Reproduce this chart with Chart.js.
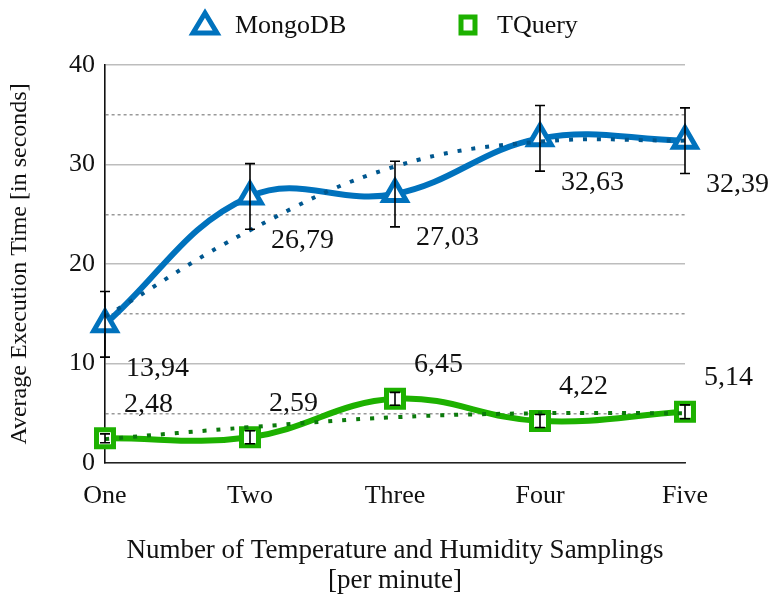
<!DOCTYPE html>
<html>
<head>
<meta charset="utf-8">
<script src="https://cdn.jsdelivr.net/npm/chart.js@4/dist/chart.umd.min.js"></script>
<style>
  html, body { margin: 0; padding: 0; background: #fff; }
  #wrap { width: 773px; height: 597px; }
</style>
</head>
<body>
<div id="wrap"><canvas id="execChart" width="773" height="597"></canvas></div>
<script>
// chart data
var samplings = ['One', 'Two', 'Three', 'Four', 'Five'];
var mongoTimes = [13.94, 26.79, 27.03, 32.63, 32.39];
var mongoErr = [3.3, 3.3, 3.3, 3.3, 3.3];
var mongoTrend = [14.7, 23.4, 29.8, 32.3, 32.4];
var tqueryTimes = [2.48, 2.59, 6.45, 4.22, 5.14];
var tqueryErr = [0.45, 0.65, 0.65, 0.65, 0.7];
var tqueryTrend = [2.4, 3.6, 4.6, 5.0, 5.0];
var yTicks = [0, 10, 20, 30, 40];

var BLUE = '#0072BD';
var BLUE_DARK = '#00578F';
var GREEN = '#1DB100';
var GREEN_DARK = '#0B7A0B';
var FONT = '"Liberation Serif", "DejaVu Serif", serif';

function fmt(v) {
    return v.toFixed(2).replace('.', ',');
}

// error bars + value labels + legend
var overlayPlugin = {
    id: 'overlay',
    afterDatasetsDraw: function (chart) {
        var ctx = chart.ctx;
        var yScale = chart.scales.y;
        var series = [
            { idx: 0, vals: mongoTimes, err: mongoErr, dx: 21, dy: 44 },
            { idx: 1, vals: tqueryTimes, err: tqueryErr, dx: 19, dy: -34 }
        ];
        ctx.save();
        series.forEach(function (s) {
            var meta = chart.getDatasetMeta(s.idx);
            meta.data.forEach(function (pt, i) {
                var top = yScale.getPixelForValue(s.vals[i] + s.err[i]);
                var bot = yScale.getPixelForValue(s.vals[i] - s.err[i]);
                ctx.strokeStyle = '#000';
                ctx.lineWidth = 1.6;
                ctx.beginPath();
                ctx.moveTo(pt.x, top); ctx.lineTo(pt.x, bot);
                ctx.moveTo(pt.x - 5, top); ctx.lineTo(pt.x + 5, top);
                ctx.moveTo(pt.x - 5, bot); ctx.lineTo(pt.x + 5, bot);
                ctx.stroke();

                ctx.fillStyle = '#111';
                ctx.font = '28px ' + FONT;
                ctx.textAlign = 'left';
                ctx.textBaseline = 'middle';
                ctx.fillText(fmt(s.vals[i]), pt.x + s.dx, pt.y + s.dy);
            });
        });
        ctx.restore();
    },
    afterDraw: function (chart) {
        var ctx = chart.ctx;
        ctx.save();
        // legend: triangle
        ctx.lineWidth = 5;
        ctx.strokeStyle = BLUE;
        ctx.fillStyle = '#fff';
        ctx.beginPath();
        ctx.moveTo(205, 13); ctx.lineTo(217, 33); ctx.lineTo(193, 33); ctx.closePath();
        ctx.fill(); ctx.stroke();
        // legend: square
        ctx.strokeStyle = GREEN;
        ctx.beginPath();
        ctx.rect(461, 17, 14, 16);
        ctx.fill(); ctx.stroke();

        ctx.fillStyle = '#111';
        ctx.font = '26px ' + FONT;
        ctx.textAlign = 'left';
        ctx.textBaseline = 'middle';
        ctx.fillText('MongoDB', 235, 26);
        ctx.fillText('TQuery', 497, 26);
        ctx.restore();
    }
};

document.addEventListener('DOMContentLoaded', function () {
    var ctx = document.getElementById('execChart').getContext('2d');

    new Chart(ctx, {
        type: 'line',
        data: {
            labels: samplings,
            datasets: [
                {
                    label: 'MongoDB',
                    data: mongoTimes,
                    borderColor: BLUE,
                    borderWidth: 6,
                    tension: 0.4,
                    pointStyle: 'triangle',
                    pointRadius: 13,
                    pointBorderWidth: 5,
                    pointBackgroundColor: '#fff',
                    pointBorderColor: BLUE,
                    order: 2
                },
                {
                    label: 'TQuery',
                    data: tqueryTimes,
                    borderColor: GREEN,
                    borderWidth: 6,
                    tension: 0.4,
                    pointStyle: 'rect',
                    pointRadius: 12,
                    pointBorderWidth: 5,
                    pointBackgroundColor: '#fff',
                    pointBorderColor: GREEN,
                    order: 2
                },
                {
                    label: 'MongoDB trend',
                    data: mongoTrend,
                    borderColor: BLUE_DARK,
                    borderWidth: 4,
                    borderDash: [4, 10],
                    tension: 0.4,
                    pointRadius: 0,
                    order: 1
                },
                {
                    label: 'TQuery trend',
                    data: tqueryTrend,
                    borderColor: GREEN_DARK,
                    borderWidth: 4,
                    borderDash: [4, 10],
                    tension: 0.4,
                    pointRadius: 0,
                    order: 1
                }
            ]
        },
        options: {
            responsive: false,
            animation: false,
            layout: { padding: { top: 65, right: 88, left: 0, bottom: 0 } },
            plugins: {
                legend: { display: false },
                tooltip: { enabled: false }
            },
            scales: {
                x: {
                    offset: false,
                    grid: { display: false, drawTicks: false },
                    border: { display: true, color: '#222', width: 1.6 },
                    ticks: {
                        color: '#111',
                        padding: 18,
                        font: { family: FONT, size: 26 }
                    },
                    title: {
                        display: true,
                        text: ['Number of Temperature and Humidity Samplings', '[per minute]'],
                        color: '#111',
                        font: { family: FONT, size: 27, lineHeight: 1.08 },
                        padding: { top: 0, bottom: 2 }
                    },
                    afterFit: function (scale) { scale.height = 134; }
                },
                y: {
                    min: 0,
                    max: 40,
                    ticks: {
                        stepSize: 5,
                        color: '#111',
                        padding: 10,
                        font: { family: FONT, size: 26 },
                        callback: function (v) {
                            return yTicks.indexOf(v) >= 0 ? String(v) : '';
                        }
                    },
                    grid: {
                        drawTicks: false,
                        lineWidth: 1.5,
                        color: function (c) {
                            if (!c.tick) return '#bbb';
                            return c.tick.value % 10 === 0 ? '#bdbdbd' : '#999';
                        }
                    },
                    border: {
                        display: true,
                        color: '#111',
                        width: 1.6,
                        dash: function (c) {
                            return (c.tick && c.tick.value % 10 !== 0) ? [3, 3] : [];
                        }
                    },
                    title: {
                        display: true,
                        text: 'Average Execution Time [in seconds]',
                        color: '#111',
                        font: { family: FONT, size: 24, lineHeight: 1.12 },
                        padding: { top: 6, bottom: 0 }
                    },
                    afterFit: function (scale) { scale.width = 105; }
                }
            }
        },
        plugins: [overlayPlugin]
    });
});
</script>
</body>
</html>
